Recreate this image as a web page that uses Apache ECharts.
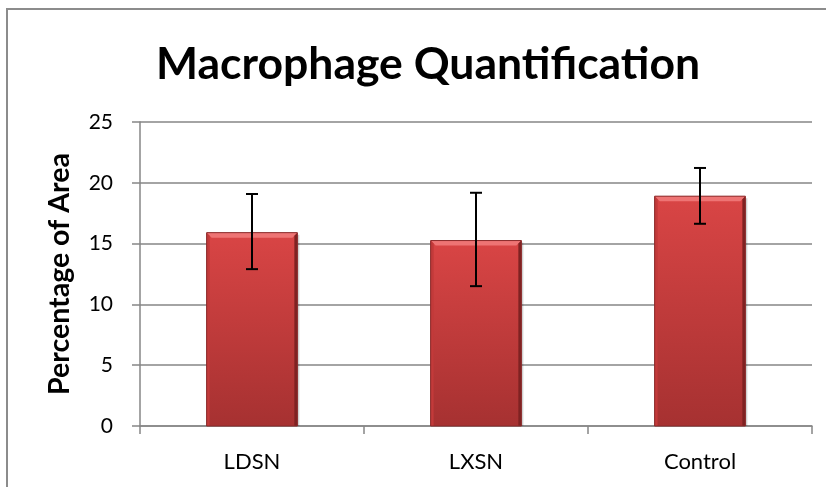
<!DOCTYPE html>
<html><head><meta charset="utf-8">
<script src="https://cdn.jsdelivr.net/npm/echarts@6/dist/echarts.min.js"></script>
<style>html,body{margin:0;padding:0;background:#fff}#c{width:826px;height:487px}</style>
</head><body><div id="c"></div>
<script>
var categories = ['LDSN', 'LXSN', 'Control'];
var values = [15.9, 15.25, 18.9];
var errLow = [12.9, 11.5, 16.63];
var errHigh = [19.08, 19.18, 21.22];
var yTicks = [0, 5, 10, 15, 20, 25];

var chart = echarts.init(document.getElementById('c'));
var font = 'Lato, "Open Sans", sans-serif';

function barItem(params, api) {
  var i = api.value(0);
  var top = api.coord([i, api.value(1)]);
  var base = api.coord([i, 0]);
  var w = api.size([1, 0])[0] * 0.405;
  var x0 = top[0] - w / 2, x1 = top[0] + w / 2, y0 = top[1], y1 = base[1];
  var b = 5;
  return {
    type: 'group',
    children: [
      { type: 'rect', shape: { x: x0 + 2, y: y0 + 2, width: w, height: y1 - y0 - 2 },
        style: { fill: 'rgba(0,0,0,0.18)' } },
      { type: 'rect', shape: { x: x0, y: y0, width: w, height: y1 - y0 },
        style: { fill: new echarts.graphic.LinearGradient(0, 0, 0, 1, [
          { offset: 0, color: '#d94545' }, { offset: 1, color: '#a63131' }]) } },
      { type: 'polygon', shape: { points: [[x0, y0], [x1, y0], [x1 - b, y0 + b], [x0 + b, y0 + b]] },
        style: { fill: '#ee7474' } },
      { type: 'polygon', shape: { points: [[x1, y0], [x1, y1], [x1 - 3, y1], [x1 - 3, y0 + 3]] },
        style: { fill: '#7e2222' } },
      { type: 'polygon', shape: { points: [[x0, y0], [x0 + 3, y0 + 3], [x0 + 3, y1], [x0, y1]] },
        style: { fill: '#c23a3a' } },
      { type: 'rect', shape: { x: x0, y: y0, width: w, height: y1 - y0 },
        style: { fill: 'none', stroke: '#8a2a2a', lineWidth: 1 } }
    ]
  };
}

function errItem(params, api) {
  var i = api.value(0);
  var hi = api.coord([i, api.value(2)]);
  var lo = api.coord([i, api.value(1)]);
  var c = 6;
  var st = { stroke: '#000', lineWidth: 2 };
  return {
    type: 'group',
    children: [
      { type: 'line', shape: { x1: hi[0], y1: hi[1], x2: lo[0], y2: lo[1] }, style: st },
      { type: 'line', shape: { x1: hi[0] - c, y1: hi[1], x2: hi[0] + c, y2: hi[1] }, style: st },
      { type: 'line', shape: { x1: lo[0] - c, y1: lo[1], x2: lo[0] + c, y2: lo[1] }, style: st }
    ]
  };
}

chart.setOption({
  animation: false,
  backgroundColor: '#fff',
  title: {
    text: 'Macrophage Quantification', left: 151, top: 37,
    textStyle: { fontFamily: font, fontWeight: 'bold', fontSize: 44.5, color: '#000' }
  },
  graphic: [{ type: 'rect', shape: { x: 7, y: 9, width: 840, height: 520 },
    style: { fill: 'none', stroke: '#8c8c8c', lineWidth: 2 }, z: 100 }],
  grid: { left: 140, right: 14, top: 122, bottom: 61 },
  xAxis: {
    type: 'category', data: categories,
    axisLine: { lineStyle: { color: '#868686', width: 1.5 } },
    axisTick: { show: true, length: 8, lineStyle: { color: '#868686', width: 1.5 } },
    axisLabel: { fontFamily: font, fontSize: 22, color: '#000', margin: 25 }
  },
  yAxis: {
    type: 'value', min: yTicks[0], max: yTicks[yTicks.length - 1], interval: 5,
    name: 'Percentage of Area', nameLocation: 'middle', nameGap: 66, nameRotate: 90,
    nameTextStyle: { fontFamily: font, fontWeight: 'bold', fontSize: 28.5, color: '#000' },
    axisLine: { show: true, lineStyle: { color: '#868686', width: 1.5 } },
    axisTick: { show: true, length: 8, lineStyle: { color: '#868686', width: 1.5 } },
    axisLabel: { fontFamily: font, fontSize: 21, color: '#000', margin: 27 },
    splitLine: { lineStyle: { color: '#868686', width: 1.5 } }
  },
  series: [
    { type: 'custom', renderItem: barItem, encode: { x: 0, y: 1 },
      data: values.map(function (v, i) { return [i, v]; }) },
    { type: 'custom', renderItem: errItem, encode: { x: 0, y: [1, 2] }, z: 5,
      data: values.map(function (v, i) { return [i, errLow[i], errHigh[i]]; }) }
  ]
});
</script></body></html>
